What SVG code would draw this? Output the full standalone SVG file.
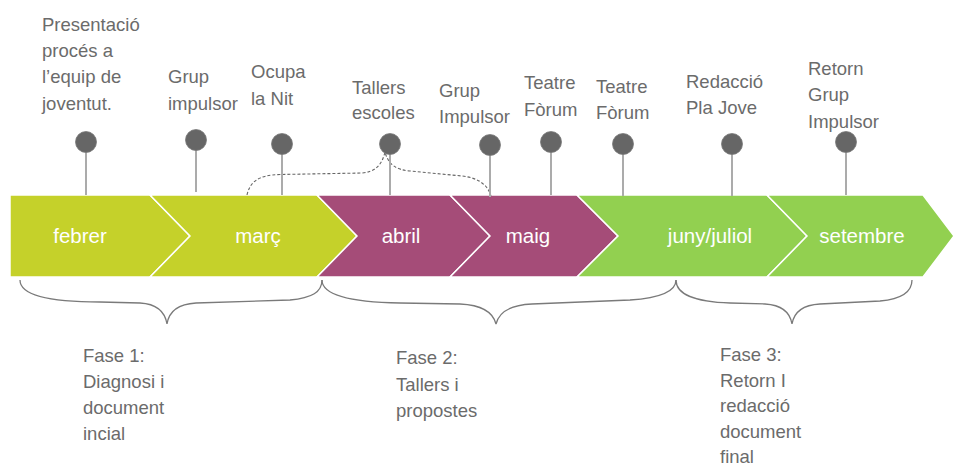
<svg xmlns="http://www.w3.org/2000/svg" width="954" height="468" viewBox="0 0 954 468">
<style>
.lbl{font-family:"Liberation Sans",Arial,sans-serif;font-size:18.5px;fill:#6b6b6b}
.mon{font-family:"Liberation Sans",Arial,sans-serif;font-size:20.5px;fill:#ffffff;text-anchor:middle}
.stem{stroke:#ababab;stroke-width:2;fill:none}
.dot{fill:#666666;stroke:#7a7a7a;stroke-width:0.8}
.chev{stroke:#ffffff;stroke-width:1.5}
.brace{fill:none;stroke:#7a7a7a;stroke-width:1.3}
.lime{fill:#C5D12A}.plum{fill:#A54C78}.green{fill:#92D050}
</style>
<rect width="954" height="468" fill="#ffffff"/>
<g id="band">
<g id="m-febrer"><path class="chev lime" d="M10,195 L150,195 L190,236 L150,277 L10,277 Z"/><text class="mon" x="80" y="243">febrer</text></g>
<g id="m-marc"><path class="chev lime" d="M150,195 L317,195 L357,236 L317,277 L150,277 L190,236 Z"/><text class="mon" x="258" y="243">març</text></g>
<g id="m-abril"><path class="chev plum" d="M317,195 L450,195 L490,236 L450,277 L317,277 L357,236 Z"/><text class="mon" x="401" y="243">abril</text></g>
<g id="m-maig"><path class="chev plum" d="M450,195 L577,195 L618,236 L577,277 L450,277 L490,236 Z"/><text class="mon" x="528" y="243">maig</text></g>
<g id="m-juny"><path class="chev green" d="M577,195 L767,195 L807,236 L767,277 L577,277 L618,236 Z"/><text class="mon" x="710" y="243">juny/juliol</text></g>
<g id="m-setembre"><path class="chev green" d="M767,195 L923,195 L954,236 L923,277 L767,277 L807,236 Z"/><text class="mon" x="862" y="243">setembre</text></g>
</g>
<g id="connectors">
<path d="M247,195 C250,182 258,175 280,174.5 L362,173 C375,172 382,165 385,152 C388,164 396,170 410,171 L462,176 C480,178 488,186 491,196" fill="none" stroke="#666" stroke-width="1.1" stroke-dasharray="3,2"/>
</g>
<g id="pin1"><line class="stem" x1="86" y1="142" x2="86" y2="195"/><circle class="dot" cx="86" cy="142" r="10.5"/>
<text class="lbl" x="42"><tspan x="42" y="31">Presentació</tspan><tspan x="42" y="57">procés a</tspan><tspan x="42" y="83">l’equip de</tspan><tspan x="42" y="110">joventut.</tspan></text></g>
<g id="pin2"><line class="stem" x1="196" y1="140" x2="196" y2="192"/><circle class="dot" cx="196" cy="140" r="10.5"/>
<text class="lbl"><tspan x="168" y="83">Grup</tspan><tspan x="168" y="110">impulsor</tspan></text></g>
<g id="pin3"><line class="stem" x1="282" y1="144" x2="282" y2="195"/><circle class="dot" cx="282" cy="144" r="10.5"/>
<text class="lbl"><tspan x="251" y="78">Ocupa</tspan><tspan x="251" y="105">la Nit</tspan></text></g>
<g id="pin4"><line class="stem" x1="390" y1="144" x2="390" y2="195"/><circle class="dot" cx="390" cy="144" r="10.5"/>
<text class="lbl"><tspan x="352" y="94">Tallers</tspan><tspan x="352" y="119">escoles</tspan></text></g>
<g id="pin5"><line class="stem" x1="490" y1="145" x2="490" y2="197"/><circle class="dot" cx="490" cy="145" r="10.5"/>
<text class="lbl"><tspan x="439" y="97">Grup</tspan><tspan x="439" y="123">Impulsor</tspan></text></g>
<g id="pin6"><line class="stem" x1="551" y1="142" x2="551" y2="195"/><circle class="dot" cx="551" cy="142" r="10.5"/>
<text class="lbl"><tspan x="524" y="89">Teatre</tspan><tspan x="524" y="116">Fòrum</tspan></text></g>
<g id="pin7"><line class="stem" x1="623" y1="144" x2="623" y2="196"/><circle class="dot" cx="623" cy="144" r="10.5"/>
<text class="lbl"><tspan x="596" y="93">Teatre</tspan><tspan x="596" y="119">Fòrum</tspan></text></g>
<g id="pin8"><line class="stem" x1="732" y1="144" x2="732" y2="196"/><circle class="dot" cx="732" cy="144" r="10.5"/>
<text class="lbl"><tspan x="686" y="88">Redacció</tspan><tspan x="686" y="114">Pla Jove</tspan></text></g>
<g id="pin9"><line class="stem" x1="846" y1="142" x2="846" y2="195"/><circle class="dot" cx="846" cy="142" r="10.5"/>
<text class="lbl"><tspan x="808" y="75">Retorn</tspan><tspan x="808" y="101">Grup</tspan><tspan x="808" y="128">Impulsor</tspan></text></g>
<g id="phase1"><path class="brace" d="M20,280 C20,296 50,302 100,302 L140,303 C158,304 165,312 167,324 C169,311 178,304 196,303 L290,300 C312,298 322,292 322,280"/>
<text class="lbl"><tspan x="83" y="362">Fase 1:</tspan><tspan x="83" y="388">Diagnosi i</tspan><tspan x="83" y="414">document</tspan><tspan x="83" y="440">incial</tspan></text></g>
<g id="phase2"><path class="brace" d="M322,280 C322,294 345,302 400,303 L460,304 C482,305 493,312 496,324 C499,312 510,305 532,304 L630,300 C660,298 676,292 676,280"/>
<text class="lbl"><tspan x="396" y="364">Fase 2:</tspan><tspan x="396" y="391">Tallers i</tspan><tspan x="396" y="417">propostes</tspan></text></g>
<g id="phase3"><path class="brace" d="M676,280 C676,294 695,302 730,303 L765,304 C782,305 790,312 792,324 C794,312 802,305 820,304 L880,301 C902,299 912,292 912,280"/>
<text class="lbl"><tspan x="720" y="361">Fase 3:</tspan><tspan x="720" y="386.5">Retorn I</tspan><tspan x="720" y="412">redacció</tspan><tspan x="720" y="437.5">document</tspan><tspan x="720" y="463">final</tspan></text></g>
</svg>
